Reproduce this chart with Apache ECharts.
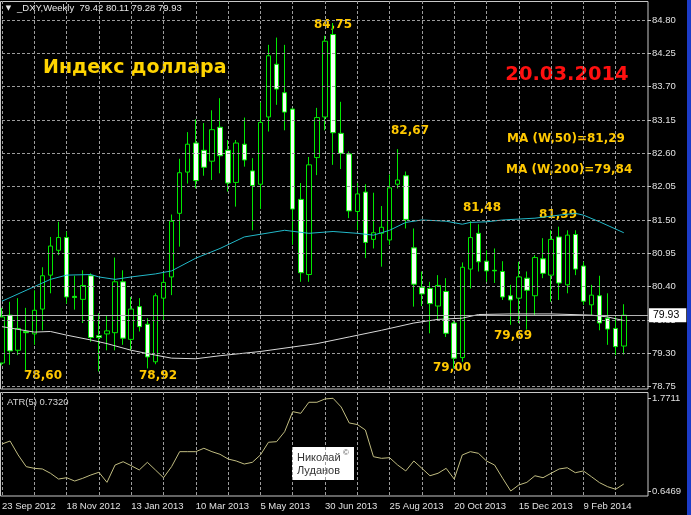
<!DOCTYPE html>
<html><head><meta charset="utf-8">
<script src="https://cdn.jsdelivr.net/npm/echarts@6/dist/echarts.min.js"></script>
<style>html,body{margin:0;padding:0;background:#000;overflow:hidden}#c{width:691px;height:515px}</style>
</head><body><div id="c"></div>
<script>
// ---- data (weekly bars starting 23 Sep 2012) ----
const opens  = [79.14,79.93,79.35,79.66,79.62,80.03,80.59,81.00,81.21,80.24,80.19,80.58,79.59,79.62,79.64,80.48,79.53,80.07,79.78,79.16,
                80.21,80.56,81.61,82.29,82.77,82.65,82.47,83.03,82.65,82.12,82.75,82.31,82.09,83.20,84.07,83.60,83.33,81.84,80.60,82.53,
                83.20,84.56,82.93,82.59,81.64,81.96,81.18,81.28,81.17,82.09,82.23,81.04,80.39,80.37,80.08,80.32,79.80,79.23,80.69,81.28,
                80.82,80.67,80.65,80.25,80.21,80.54,80.25,80.86,80.59,81.22,80.43,81.26,80.74,80.10,80.25,79.88,79.71,79.42];
const highs  = [80.05,80.15,80.21,80.05,80.34,80.72,81.22,81.47,81.31,80.58,80.67,80.62,79.96,79.92,80.88,80.67,80.23,80.21,79.88,80.29,
                80.63,81.59,82.51,82.95,83.16,83.10,83.31,83.51,82.82,82.82,83.19,82.52,83.44,84.39,84.51,84.39,83.34,82.11,82.54,83.35,
                84.54,84.75,83.45,82.63,82.11,82.09,81.95,81.73,82.25,82.67,82.30,81.36,80.65,80.48,80.59,80.54,79.83,80.80,81.48,81.43,
                81.00,81.03,80.82,80.43,80.81,80.65,80.92,81.20,81.33,81.39,81.33,81.33,80.81,80.43,80.58,80.29,79.90,80.11];
const lows   = [79.10,79.11,79.27,79.02,79.44,79.68,80.29,80.92,80.12,80.02,79.80,79.49,79.00,79.35,79.35,79.44,79.35,79.66,79.05,79.12,
                79.85,80.26,81.06,82.10,82.02,82.23,82.16,82.27,81.97,81.72,82.38,81.33,81.68,82.96,83.40,82.98,81.09,80.48,80.48,82.24,
                82.98,82.41,82.34,81.53,81.33,80.87,81.03,80.73,81.09,82.02,81.36,80.07,80.08,79.63,79.86,79.57,79.05,79.16,80.37,80.65,
                80.48,80.46,80.18,79.77,79.80,79.69,79.93,80.54,80.15,80.18,80.29,80.59,80.10,79.93,79.68,79.44,79.27,79.28];
const closes = [79.90,79.34,79.71,79.64,80.01,80.58,81.07,81.21,80.23,80.22,80.42,79.56,79.56,79.67,80.48,79.55,80.03,79.74,79.24,80.25,
                80.47,81.48,82.28,82.75,82.15,82.37,82.99,82.56,82.11,82.77,82.49,82.07,83.11,84.21,83.66,83.28,81.68,80.63,82.41,83.19,
                84.45,82.94,82.60,81.65,81.93,81.13,81.29,81.38,82.03,82.16,81.51,80.44,80.28,80.12,80.42,79.63,79.22,80.72,81.21,80.81,
                80.66,80.66,80.23,80.18,80.56,80.34,80.88,80.62,81.18,80.46,81.25,80.69,80.16,80.26,79.80,79.70,79.41,79.93];
// moving averages: [bar index, value]
const ma50Points  = [[0,80.16],[4,80.40],[6,80.52],[8,80.59],[11,80.60],[12,80.56],[14,80.52],[16,80.56],[19,80.61],[21,80.66],
                     [24,80.87],[27,81.03],[30,81.22],[35,81.33],[38,81.28],[41,81.31],[44,81.28],[46,81.25],[48,81.33],[50,81.46],
                     [52,81.50],[55,81.48],[57,81.43],[58,81.46],[60,81.47],[62,81.50],[66,81.53],[69,81.58],[71,81.61],[72,81.58],
                     [74,81.47],[77,81.29]];
const ma200Points = [[0,79.74],[4,79.65],[6,79.66],[8,79.60],[11,79.52],[13,79.46],[16,79.35],[19,79.27],[21,79.22],[24,79.21],
                     [27,79.26],[32,79.33],[39,79.46],[43,79.57],[47,79.68],[51,79.80],[54,79.86],[57,79.88],[59,79.94],[63,79.95],
                     [68,79.95],[73,79.93],[75,79.90],[77,79.84]];
const atr = [1.217,1.253,1.084,0.942,0.922,0.914,0.862,0.792,0.808,0.768,0.801,0.841,0.874,0.752,0.962,1.002,0.954,0.902,0.995,0.902,
             0.808,0.942,1.124,1.124,1.124,1.165,1.124,1.092,1.035,1.011,0.974,0.995,1.084,1.238,1.245,1.366,1.609,1.589,1.723,1.723,
             1.763,1.7711,1.666,1.472,1.453,1.387,1.063,1.043,1.051,0.962,0.890,1.011,0.922,0.832,0.862,0.922,0.792,1.084,1.124,1.104,
             1.011,0.962,0.801,0.6469,0.720,0.752,0.832,0.808,0.862,0.914,0.929,0.869,0.890,0.820,0.748,0.699,0.668,0.7320];
const priceTicks = [84.80,84.25,83.70,83.15,82.60,82.05,81.50,80.95,80.40,79.85,79.30,78.75];
const atrTicks = [1.7711,0.6469];
const lastPrice = 79.93;
const labelsOnChart = [
  ['84,75',333,25],['82,67',410,131],['78,60',43,376],['78,92',158,376],
  ['79,00',452,368],['81,48',482,208],['79,69',513,336],['81,39',558,215]
];

// ---- build ----
const monthNames = ['Jan','Feb','Mar','Apr','May','Jun','Jul','Aug','Sep','Oct','Nov','Dec'];
const nBars = opens.length, nCats = nBars + 3;
const categories = [];
for (let i = 0; i < nCats; i++) {
  const d = new Date(Date.UTC(2012, 8, 23 + 7 * i));
  categories.push(d.getUTCDate() + ' ' + monthNames[d.getUTCMonth()] + ' ' + d.getUTCFullYear());
}
const candleData = opens.map((o, i) => [o, closes[i], lows[i], highs[i]]);
function sparse(points) {
  const arr = new Array(nBars).fill(null);
  points.forEach(p => { arr[p[0]] = p[1]; });
  return arr;
}
const SMALL = '"Liberation Sans", Arial, sans-serif';
const BOLD = '"DejaVu Sans", sans-serif';
const GRIDC = '#9c9c9c';
const splitEvery4 = { show: true, interval: (i) => i % 4 === 0 && i < nBars, lineStyle: { color: GRIDC, type: [3, 2], width: 1 } };

const texts = [];
texts.push({ type: 'text', style: { text: '▼', x: 8.5, y: 8, fill: '#e8e8e8', font: '7px "DejaVu Sans"', align: 'center', verticalAlign: 'middle' } });
texts.push({ type: 'text', style: { text: '_DXY,Weekly  79.42 80.11 79.28 79.93', x: 17, y: 8.5, fill: '#e8e8e8', font: '9.5px ' + SMALL, align: 'left', verticalAlign: 'middle' } });
texts.push({ type: 'text', style: { text: 'Индекс доллара', x: 43, y: 68, fill: '#ffd400', font: 'bold 19px ' + BOLD, align: 'left', verticalAlign: 'middle' } });
texts.push({ type: 'text', style: { text: '20.03.2014', x: 567, y: 75, fill: '#ff1010', font: 'bold 19.5px ' + BOLD, align: 'center', verticalAlign: 'middle' } });
texts.push({ type: 'text', style: { text: 'MA (W,50)=81,29', x: 507, y: 139, fill: '#ffc800', font: 'bold 12px ' + BOLD, align: 'left', verticalAlign: 'middle' } });
texts.push({ type: 'text', style: { text: 'MA (W,200)=79,84', x: 506, y: 170, fill: '#ffc800', font: 'bold 12px ' + BOLD, align: 'left', verticalAlign: 'middle' } });
labelsOnChart.forEach(l => texts.push({ type: 'text', style: { text: l[0], x: l[1], y: l[2], fill: '#ffc800', font: 'bold 12px ' + BOLD, align: 'center', verticalAlign: 'middle' } }));
texts.push({ type: 'text', style: { text: 'ATR(5) 0.7320', x: 7, y: 402, fill: '#d8d8d8', font: '9.5px ' + SMALL, align: 'left', verticalAlign: 'middle' } });
// author box
texts.push({ type: 'rect', shape: { x: 292, y: 447, width: 62, height: 33 }, style: { fill: '#ffffff' } });
texts.push({ type: 'text', style: { text: 'Николай', x: 297, y: 458, fill: '#333', font: '11px ' + SMALL, align: 'left', verticalAlign: 'middle' } });
texts.push({ type: 'text', style: { text: '©', x: 346, y: 453, fill: '#555', font: '8px ' + SMALL, align: 'center', verticalAlign: 'middle' } });
texts.push({ type: 'text', style: { text: 'Луданов', x: 297, y: 471, fill: '#333', font: '11px ' + SMALL, align: 'left', verticalAlign: 'middle' } });
// panel frames and window edge
texts.push({ type: 'rect', shape: { x: 0.5, y: 1.5, width: 647.5, height: 387.5 }, style: { fill: 'none', stroke: '#c8c8c8', lineWidth: 1 } });
texts.push({ type: 'rect', shape: { x: 0.5, y: 392.5, width: 647.5, height: 103.5 }, style: { fill: 'none', stroke: '#c8c8c8', lineWidth: 1 } });
texts.push({ type: 'rect', shape: { x: 687, y: 0, width: 4, height: 515 }, style: { fill: '#1c3cc8' }, z: 100 });

const chart = echarts.init(document.getElementById('c'), null, { renderer: 'canvas' });
chart.setOption({
  backgroundColor: '#000000',
  animation: false,
  grid: [
    { left: 2, top: 1, width: 646, height: 388, containLabel: false, outerBoundsMode: 'none' },
    { left: 2, top: 392, width: 646, height: 104, containLabel: false, outerBoundsMode: 'none' }
  ],
  xAxis: [
    { type: 'category', gridIndex: 0, data: categories, boundaryGap: false,
      axisLine: { show: false }, axisTick: { show: false }, axisLabel: { show: false }, splitLine: splitEvery4 },
    { type: 'category', gridIndex: 1, data: categories, boundaryGap: false,
      axisLine: { show: false }, axisTick: { show: false },
      axisLabel: { show: true, interval: (i) => i % 8 === 0 && i < nBars, align: 'left', margin: 5, color: '#e0e0e0',
                   fontSize: 9.5, fontFamily: SMALL, hideOverlap: false },
      splitLine: splitEvery4 }
  ],
  yAxis: [
    { type: 'value', gridIndex: 0, position: 'right', min: 78.711, max: 85.1135, scale: true,
      axisLine: { show: false },
      axisTick: { show: true, customValues: priceTicks, length: 3, lineStyle: { color: '#c8c8c8' } },
      axisLabel: { show: true, customValues: priceTicks, formatter: v => v.toFixed(2), margin: 4, color: '#e0e0e0', fontSize: 9.5, fontFamily: SMALL },
      splitLine: { show: false } },
    { type: 'value', gridIndex: 1, position: 'right', min: 0.5863, max: 1.8475, scale: true,
      axisLine: { show: false },
      axisTick: { show: true, customValues: atrTicks, length: 3, lineStyle: { color: '#c8c8c8' } },
      axisLabel: { show: true, customValues: atrTicks, formatter: v => v.toFixed(4), margin: 4, color: '#e0e0e0', fontSize: 9.5, fontFamily: SMALL },
      splitLine: { show: false } }
  ],
  series: [
    { type: 'line', xAxisIndex: 0, yAxisIndex: 0, data: [], z: 1, silent: true,
      markLine: { silent: true, symbol: 'none', label: { show: false }, animation: false,
        lineStyle: { color: GRIDC, type: [3, 2], width: 1 },
        data: priceTicks.map(v => ({ yAxis: v })) } },
    { type: 'candlestick', xAxisIndex: 0, yAxisIndex: 0, data: candleData, barWidth: 5, z: 3, clip: false,
      itemStyle: { color: '#000000', color0: '#f4fff4', borderColor: '#00e800', borderColor0: '#00e800', borderWidth: 1 },
      markLine: { silent: true, symbol: 'none', animation: false,
        lineStyle: { color: '#b4b4b4', type: 'solid', width: 1 },
        label: { show: true, position: 'end', distance: 1, formatter: lastPrice.toFixed(2), backgroundColor: '#ffffff',
                 color: '#000000', fontSize: 10.5, fontFamily: SMALL, padding: [2, 7, 1, 4] },
        data: [{ yAxis: lastPrice }] } },
    { type: 'line', xAxisIndex: 0, yAxisIndex: 0, data: sparse(ma50Points), connectNulls: true, showSymbol: false, z: 4,
      lineStyle: { color: '#22b8c8', width: 1 } },
    { type: 'line', xAxisIndex: 0, yAxisIndex: 0, data: sparse(ma200Points), connectNulls: true, showSymbol: false, z: 4,
      lineStyle: { color: '#d8d8d8', width: 1 } },
    { type: 'line', xAxisIndex: 1, yAxisIndex: 1, data: atr, showSymbol: false, z: 4,
      lineStyle: { color: '#c0bc80', width: 1 } }
  ],
  graphic: texts
});
</script>
</body></html>
